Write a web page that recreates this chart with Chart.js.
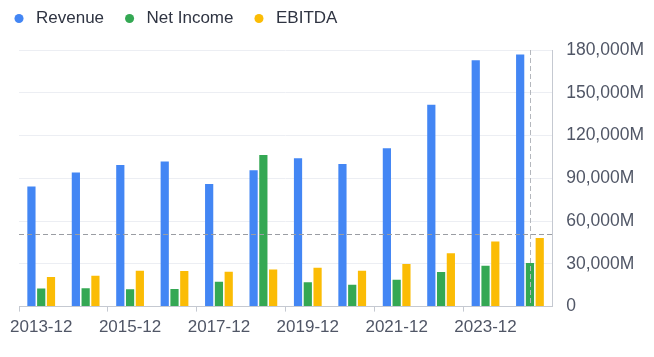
<!DOCTYPE html>
<html>
<head>
<meta charset="utf-8">
<script src="https://cdn.jsdelivr.net/npm/chart.js@4/dist/chart.umd.min.js"></script>
<style>
  html, body { margin: 0; padding: 0; background: #fff; }
  #wrap { width: 654px; height: 357px; position: relative; }
</style>
</head>
<body>
<div id="wrap"><canvas id="c"></canvas></div>
<script>
const categories = ['2013-12','2014-12','2015-12','2016-12','2017-12','2018-12','2019-12','2020-12','2021-12','2022-12','2023-12','2024-12'];
const revenue   = [84200, 94000, 99400, 101700, 86000, 95600, 104000, 100100, 111100, 141600, 172800, 176800];
const netIncome = [12700, 12900, 12200, 12400, 17400, 106400, 17100, 15300, 18800, 24200, 28600, 30500];
const ebitda    = [20700, 21600, 25100, 24900, 24400, 26000, 27200, 25100, 29800, 37500, 45700, 48100];
const yTickValues = [0, 30000, 60000, 90000, 120000, 150000, 180000];
const crosshairValue = 51000;
const crosshairCategory = '2024-12';

const FONT = "'Liberation Sans', Arial, Helvetica, sans-serif";

const crosshair = {
  id: 'crosshair',
  afterDatasetsDraw(chart) {
    const {ctx, chartArea, scales} = chart;
    const x = scales.x.getPixelForValue(categories.indexOf(crosshairCategory));
    const y = scales.y.getPixelForValue(crosshairValue);
    ctx.save();
    ctx.strokeStyle = '#9a9da3';
    ctx.lineWidth = 1;
    ctx.setLineDash([5, 3]);
    ctx.beginPath();
    ctx.moveTo(chartArea.left, Math.round(y) + 0.5);
    ctx.lineTo(chartArea.right, Math.round(y) + 0.5);
    ctx.stroke();
    ctx.strokeStyle = '#b4b7bd';
    ctx.beginPath();
    ctx.moveTo(Math.round(x) + 0.5, chartArea.top);
    ctx.lineTo(Math.round(x) + 0.5, chartArea.bottom);
    ctx.stroke();
    ctx.restore();
  }
};

const legendShift = {
  id: 'legendShift',
  beforeDraw(chart) {
    if (chart.legend) {
      chart.legend.left = -6.5;
      chart.legend.top = -7;
    }
  }
};

new Chart(document.getElementById('c'), {
  type: 'bar',
  data: {
    labels: categories,
    datasets: [
      { label: 'Revenue', data: revenue, backgroundColor: '#4386f4' },
      { label: 'Net Income', data: netIncome, backgroundColor: '#34a853' },
      { label: 'EBITDA', data: ebitda, backgroundColor: '#fbbc05' }
    ]
  },
  options: {
    responsive: true,
    maintainAspectRatio: false,
    animation: false,
    datasets: { bar: { categoryPercentage: 0.66, barPercentage: 0.84 } },
    layout: { padding: { left: 19, right: -4, top: 6, bottom: 13 } },
    plugins: {
      tooltip: { enabled: false },
      legend: {
        position: 'top',
        align: 'start',
        labels: {
          usePointStyle: true,
          pointStyle: 'circle',
          boxWidth: 17,
          boxHeight: 6.4,
          padding: 17,
          color: '#2f3442',
          font: { family: FONT, size: 17 }
        }
      }
    },
    scales: {
      x: {
        grid: {
          display: true,
          drawOnChartArea: false,
          drawTicks: true,
          tickLength: 5,
          tickColor: (c) => (c.index % 2 === 0 ? '#c5c9d1' : 'rgba(0,0,0,0)')
        },
        border: { display: true, color: '#c5c9d1' },
        ticks: {
          autoSkip: false,
          maxRotation: 0,
          padding: 6,
          color: '#505666',
          font: { family: FONT, size: 17 },
          callback: (v, i) => (i % 2 === 0 ? categories[i] : '')
        }
      },
      y: {
        position: 'right',
        min: 0,
        max: 180000,
        afterBuildTicks: (axis) => { axis.ticks = yTickValues.map(v => ({ value: v })); },
        grid: { color: '#eceef3', drawTicks: false },
        border: { display: true, color: '#c5c9d1' },
        ticks: {
          padding: 14,
          color: '#505666',
          font: { family: FONT, size: 17.5 },
          callback: (v) => (v === 0 ? '0' : v.toLocaleString('en-US') + 'M')
        }
      }
    }
  },
  plugins: [crosshair, legendShift]
});
</script>
</body>
</html>
